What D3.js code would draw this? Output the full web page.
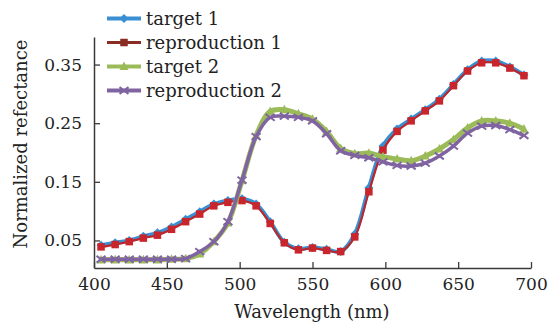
<!DOCTYPE html>
<html><head><meta charset="utf-8">
<script src="https://cdn.jsdelivr.net/npm/d3@7"></script>
<style>html,body{margin:0;padding:0;background:#fff;}svg{display:block;}</style>
</head><body>
<svg id="c" width="548" height="323"></svg>
<script>
const wavelengths = d3.range(400, 701, 10);
const target1 = [0.042,0.046,0.050,0.057,0.063,0.073,0.086,0.099,0.112,0.118,0.121,0.112,0.082,0.047,0.036,0.038,0.035,0.031,0.061,0.140,0.211,0.240,0.257,0.273,0.291,0.316,0.341,0.356,0.356,0.346,0.332];
const reproduction1 = [0.039,0.043,0.048,0.054,0.059,0.069,0.082,0.095,0.109,0.115,0.118,0.109,0.079,0.046,0.034,0.037,0.033,0.031,0.056,0.133,0.204,0.236,0.254,0.271,0.288,0.314,0.339,0.353,0.353,0.344,0.331];
const target2 = [0.017,0.017,0.017,0.017,0.017,0.018,0.019,0.027,0.048,0.080,0.152,0.229,0.270,0.273,0.266,0.257,0.236,0.207,0.198,0.199,0.193,0.189,0.186,0.194,0.206,0.222,0.242,0.254,0.254,0.250,0.240];
const reproduction2 = [0.018,0.018,0.018,0.018,0.018,0.018,0.019,0.031,0.048,0.082,0.153,0.227,0.260,0.262,0.260,0.254,0.232,0.203,0.195,0.191,0.184,0.178,0.177,0.182,0.194,0.211,0.233,0.245,0.246,0.239,0.229];
const seriesNames = ["target 1","reproduction 1","target 2","reproduction 2"];
const xTicks = [400,450,500,550,600,650,700];
const yTicks = [0.05,0.15,0.25,0.35];

const svg = d3.select("#c");
const L = 94, R = 531, T = 37, B = 268;
const font = "'DejaVu Serif', serif";

// category positions (points centred in bins), labelled axis spans the full width
const xBand = d3.scaleBand().domain(wavelengths).range([L, R]).padding(0);
const xPos = w => xBand(w) + xBand.bandwidth()/2;
const xAxisScale = d3.scaleLinear().domain([400, 700]).range([L, R]);
const y = d3.scaleLinear().domain([0.003, 0.397]).range([B, T]);

const axisColor = "#3a3a3a";
// x axis
const gx = svg.append("g").attr("transform", `translate(0,${B})`)
  .call(d3.axisBottom(xAxisScale).tickValues(xTicks).tickFormat(d3.format("d")).tickSizeInner(-6).tickSizeOuter(0).tickPadding(10));
gx.select(".domain").attr("stroke", axisColor).attr("stroke-width", 1.5);
gx.selectAll(".tick line").attr("stroke", axisColor).attr("stroke-width", 1.3);
gx.selectAll("text").attr("font-family", font).attr("font-size", 17).attr("fill", "#222");

// y axis
const gy = svg.append("g").attr("transform", `translate(${L},0)`)
  .call(d3.axisLeft(y).tickValues(yTicks).tickFormat(d3.format(".2f")).tickSizeInner(-6).tickSizeOuter(0).tickPadding(12));
gy.select(".domain").attr("stroke", axisColor).attr("stroke-width", 1.5);
gy.selectAll(".tick line").attr("stroke", axisColor).attr("stroke-width", 1.3);
gy.selectAll("text").attr("font-family", font).attr("font-size", 17).attr("fill", "#222");

// titles
svg.append("text").attr("x", 312).attr("y", 318).attr("text-anchor", "middle")
  .attr("font-family", font).attr("font-size", 18).attr("fill", "#222").text("Wavelength (nm)");
svg.append("text").attr("transform", `translate(27,144) rotate(-90)`).attr("text-anchor", "middle")
  .attr("font-family", font).attr("font-size", 18).attr("fill", "#222").text("Normalized refectance");

const styles = [
  {data: target1, line: "#3a8fd3", lw: 4, marker: "diamond", fill: "#3a8fd3", size: 9},
  {data: reproduction1, line: "#b8282c", lw: 2.2, marker: "square", fill: "#c8262c", size: 7.5},
  {data: target2, line: "#9bbb59", lw: 5, marker: "triangle", fill: "#9bbb59", size: 9},
  {data: reproduction2, line: "#8064a2", lw: 3.5, marker: "x", fill: "#8064a2", size: 9}
];
const legendLineColor = ["#3a8fd3", "#8a2c22", "#9bbb59", "#8064a2"];

function drawMarker(g, type, cx, cy, s, color) {
  if (type === "diamond") {
    g.append("path").attr("d", `M${cx},${cy-s/2}L${cx+s/2},${cy}L${cx},${cy+s/2}L${cx-s/2},${cy}Z`).attr("fill", color);
  } else if (type === "square") {
    g.append("rect").attr("x", cx-s/2).attr("y", cy-s/2).attr("width", s).attr("height", s).attr("fill", color);
  } else if (type === "triangle") {
    g.append("path").attr("d", `M${cx},${cy-s*0.55}L${cx+s/2},${cy+s*0.4}L${cx-s/2},${cy+s*0.4}Z`).attr("fill", color);
  } else {
    const h = s/2;
    g.append("path").attr("d", `M${cx-h},${cy-h*0.75}L${cx+h},${cy+h*0.75}M${cx-h},${cy+h*0.75}L${cx+h},${cy-h*0.75}`)
      .attr("stroke", color).attr("stroke-width", 2).attr("fill", "none");
  }
}

const line = d3.line().x((d,i) => xPos(wavelengths[i])).y(d => y(d)).curve(d3.curveCatmullRom.alpha(0.5));
styles.forEach(st => {
  const g = svg.append("g");
  g.append("path").attr("d", line(st.data)).attr("fill", "none").attr("stroke", st.line)
    .attr("stroke-width", st.lw).attr("stroke-linejoin", "round");
  st.data.forEach((v, i) => drawMarker(g, st.marker, xPos(wavelengths[i]), y(v), st.size, st.fill));
});

// legend
const lg = svg.append("g");
seriesNames.forEach((name, i) => {
  const cy = 18.5 + i*24;
  lg.append("line").attr("x1", 107).attr("x2", 141).attr("y1", cy).attr("y2", cy)
    .attr("stroke", legendLineColor[i]).attr("stroke-width", i === 1 ? 3 : 4);
  drawMarker(lg, styles[i].marker, 124, cy, styles[i].size, i === 1 ? "#8a2c22" : styles[i].fill);
  lg.append("text").attr("x", 146).attr("y", cy + 6).attr("font-family", font).attr("font-size", 18)
    .attr("fill", "#222").text(name);
});
</script>
</body></html>
